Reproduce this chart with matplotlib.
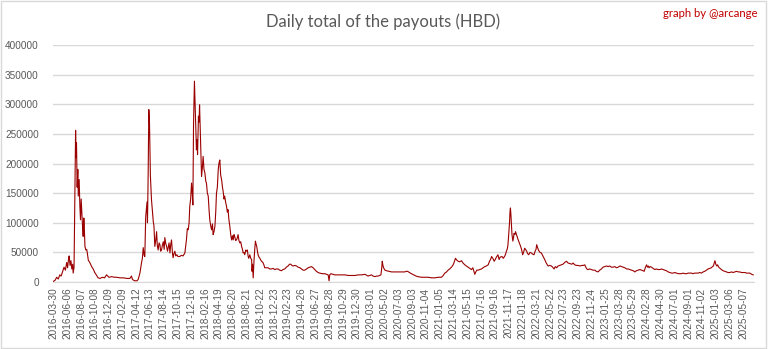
"""
Daily total of the payouts (HBD) - line chart.
"""
import numpy as np
import matplotlib.pyplot as plt
from matplotlib.patches import Rectangle

#<---------------------------Datos---------------------------->
# day index (category position on the x axis) and payout in thousands of HBD
day = [0, 8, 15, 22, 29, 35, 42, 48, 54, 60, 64, 68, 71, 75, 79, 83, 87, 89, 93, 97,
       100, 102, 104, 107, 110, 112, 116, 119, 122, 125, 128, 131, 134, 137, 139, 142, 146, 150, 153, 157,
       165, 172, 179, 186, 193, 201, 210, 220, 230, 239, 250, 262, 275, 284, 300, 315, 330, 344, 351, 356,
       366, 375, 381, 389, 396, 400, 404, 408, 411, 415, 419, 421, 423, 426, 429, 432, 436, 441, 449, 452,
       456, 460, 464, 467, 471, 475, 479, 482, 486, 490, 494, 498, 501, 505, 509, 513, 516, 520, 524, 527,
       531, 535, 538, 542, 546, 550, 555, 560, 568, 575, 583, 591, 595, 598, 602, 606, 610, 613, 617, 621,
       625, 627, 630, 634, 637, 639, 643, 646, 648, 652, 655, 657, 661, 664, 666, 670, 673, 677, 681, 685,
       688, 692, 696, 700, 703, 707, 711, 715, 718, 722, 726, 730, 733, 737, 741, 744, 748, 752, 756, 760,
       763, 767, 770, 774, 778, 782, 785, 789, 793, 797, 801, 805, 808, 812, 815, 819, 823, 827, 830, 834,
       838, 842, 846, 850, 853, 857, 860, 865, 868, 872, 875, 878, 883, 887, 891, 893, 895, 898, 902, 905,
       908, 911, 914, 917, 920, 924, 928, 935, 939, 943, 947, 950, 958, 965, 972, 980, 987, 995, 1002, 1010,
       1017, 1025, 1032, 1040, 1047, 1055, 1061, 1067, 1072, 1077, 1085, 1093, 1100, 1108, 1115, 1122, 1130, 1138, 1145, 1152,
       1160, 1167, 1175, 1182, 1190, 1197, 1208, 1220, 1228, 1235, 1239, 1242, 1247, 1256, 1265, 1280, 1295, 1310, 1325, 1340,
       1355, 1370, 1385, 1400, 1414, 1422, 1430, 1437, 1445, 1452, 1460, 1466, 1472, 1476, 1478, 1481, 1484, 1490, 1497, 1508,
       1520, 1535, 1549, 1565, 1579, 1586, 1592, 1600, 1609, 1620, 1630, 1639, 1654, 1670, 1684, 1700, 1714, 1730, 1744, 1752,
       1759, 1767, 1774, 1781, 1789, 1795, 1800, 1807, 1813, 1819, 1826, 1834, 1841, 1849, 1856, 1864, 1871, 1879, 1885, 1890,
       1894, 1897, 1903, 1909, 1916, 1924, 1931, 1939, 1946, 1954, 1960, 1965, 1969, 1975, 1981, 1986, 1991, 1998, 2003, 2008,
       2016, 2022, 2029, 2033, 2036, 2040, 2043, 2047, 2050, 2052, 2054, 2056, 2058, 2061, 2065, 2068, 2070, 2074, 2077, 2081,
       2084, 2088, 2091, 2096, 2100, 2104, 2109, 2113, 2118, 2122, 2127, 2131, 2136, 2142, 2148, 2154, 2160, 2165, 2169, 2172,
       2176, 2181, 2187, 2193, 2200, 2208, 2215, 2223, 2230, 2238, 2244, 2250, 2256, 2262, 2268, 2276, 2283, 2290, 2298, 2306,
       2313, 2321, 2330, 2336, 2343, 2350, 2358, 2366, 2375, 2382, 2388, 2394, 2400, 2403, 2410, 2418, 2425, 2433, 2440, 2448,
       2455, 2463, 2470, 2478, 2486, 2493, 2500, 2508, 2515, 2523, 2531, 2538, 2546, 2553, 2560, 2568, 2576, 2583, 2590, 2598,
       2606, 2613, 2620, 2628, 2636, 2643, 2650, 2655, 2660, 2666, 2670, 2674, 2677, 2682, 2688, 2695, 2703, 2710, 2718, 2726,
       2733, 2740, 2748, 2755, 2763, 2770, 2778, 2785, 2793, 2800, 2808, 2815, 2823, 2830, 2838, 2845, 2853, 2860, 2868, 2875,
       2882, 2890, 2897, 2905, 2912, 2920, 2927, 2935, 2942, 2950, 2957, 2962, 2966, 2970, 2973, 2977, 2981, 2985, 2990, 2996,
       3002, 3010, 3017, 3025, 3032, 3040, 3048, 3055, 3063, 3070, 3078, 3085, 3092, 3100, 3108, 3115, 3123, 3130, 3138, 3145]

hbd_k = [1, 3, 8, 5, 12, 10, 18, 25, 20, 33, 24, 38, 44, 28, 36, 22, 30, 15, 25, 150,
         256, 210, 235, 160, 190, 145, 173, 130, 105, 140, 117, 95, 77, 108, 93, 60, 54, 55, 48, 37,
         32, 26, 22, 16, 12, 7, 6, 8, 7, 12, 8, 9, 8, 8, 7, 7, 6, 6, 10, 4,
         2, 2, 4, 15, 32, 40, 58, 45, 43, 110, 128, 135, 100, 180, 291, 270, 180, 139, 102, 95,
         60, 70, 85, 62, 54, 66, 63, 52, 54, 62, 68, 55, 75, 65, 60, 52, 58, 66, 49, 62,
         71, 50, 41, 48, 52, 44, 46, 43, 43, 45, 44, 49, 62, 71, 90, 88, 100, 128, 140, 167,
         145, 130, 268, 339, 300, 268, 223, 240, 215, 280, 270, 299, 246, 200, 178, 195, 212, 190, 184, 170,
         167, 150, 145, 120, 105, 95, 88, 98, 80, 85, 94, 120, 150, 160, 190, 200, 206, 180, 173, 160,
         153, 140, 145, 135, 128, 118, 122, 105, 94, 80, 71, 78, 71, 80, 77, 70, 71, 75, 80, 70,
         66, 68, 60, 55, 49, 50, 46, 54, 52, 54, 44, 40, 46, 40, 38, 18, 30, 7, 38, 55,
         69, 64, 60, 52, 46, 42, 40, 35, 34, 32, 28, 24, 24, 24, 22, 22, 23, 21, 22, 22,
         20, 19, 21, 22, 25, 27, 30, 30, 28, 27, 28, 27, 25, 24, 22, 20, 20, 22, 24, 25,
         26, 24, 21, 18, 16, 15, 14, 14, 13, 12, 2, 12, 14, 13, 12, 12, 12, 12, 11, 11,
         11, 12, 12, 13, 10, 11, 12, 10, 9, 10, 10, 11, 12, 25, 35, 28, 24, 20, 19, 18,
         17, 17, 17, 17, 17, 18, 18, 16, 14, 12, 10, 9, 8, 8, 8, 7, 7, 8, 8, 11,
         15, 17, 20, 22, 25, 28, 32, 40, 37, 35, 34, 36, 32, 29, 27, 25, 23, 21, 24, 18,
         13, 16, 20, 20, 21, 22, 24, 26, 27, 29, 35, 38, 43, 40, 35, 38, 42, 46, 38, 42,
         43, 40, 44, 48, 52, 56, 63, 85, 100, 118, 125, 115, 100, 80, 69, 75, 82, 80, 85, 80,
         77, 72, 69, 64, 60, 55, 46, 50, 57, 55, 52, 48, 46, 50, 49, 47, 46, 52, 55, 63,
         58, 53, 50, 49, 44, 38, 32, 27, 28, 27, 25, 22, 26, 24, 27, 28, 29, 30, 33, 35,
         32, 31, 30, 32, 29, 28, 28, 27, 28, 28, 29, 24, 21, 21, 22, 21, 20, 20, 18, 17,
         20, 22, 25, 26, 27, 26, 27, 25, 25, 26, 24, 25, 27, 26, 25, 24, 22, 22, 21, 20,
         19, 17, 19, 20, 21, 20, 19, 18, 24, 29, 25, 27, 24, 26, 25, 23, 21, 22, 21, 21,
         22, 21, 20, 19, 17, 16, 15, 15, 16, 15, 14, 14, 14, 15, 14, 14, 15, 15, 15, 14,
         15, 15, 15, 16, 15, 17, 18, 20, 22, 23, 24, 26, 27, 32, 36, 30, 27, 29, 25, 23,
         21, 19, 18, 17, 16, 16, 17, 16, 17, 18, 17, 17, 16, 16, 16, 15, 15, 15, 13, 12]

tick_labels = ["2016-03-30", "2016-06-06", "2016-08-07", "2016-10-08", "2016-12-09",
               "2017-02-09", "2017-04-12", "2017-06-13", "2017-08-14", "2017-10-15",
               "2017-12-16", "2018-02-16", "2018-04-19", "2018-06-20", "2018-08-21",
               "2018-10-22", "2018-12-23", "2019-02-23", "2019-04-26", "2019-06-27",
               "2019-08-28", "2019-10-29", "2019-12-30", "2020-03-01", "2020-05-02",
               "2020-07-03", "2020-09-03", "2020-11-04", "2021-01-05", "2021-03-14",
               "2021-05-15", "2021-07-16", "2021-09-16", "2021-11-17", "2022-01-18",
               "2022-03-21", "2022-05-22", "2022-07-23", "2022-09-23", "2022-11-24",
               "2023-01-25", "2023-03-28", "2023-05-29", "2024-02-28", "2024-04-30",
               "2024-07-01", "2024-09-01", "2024-11-02", "2025-01-03", "2025-03-06",
               "2025-05-07"]
label_step = 62  # one label every 62 categories

#<---------------------------Grafica---------------------------->
plt.rcParams['font.family'] = ['Lato', 'DejaVu Sans']
gray = "#595959"

fig = plt.figure(figsize=(7.68, 3.49), dpi=100)
ax = fig.add_axes([0.0686, 0.192, 0.913, 0.679])

ax.plot(day, np.array(hbd_k) * 1000, color="#9b0000", linewidth=0.8)

ax.set_xlim(-3, 3148)
ax.set_ylim(0, 400000)
ax.set_yticks(np.arange(0, 400001, 50000))
ax.set_xticks(np.arange(len(tick_labels)) * label_step)
ax.set_xticklabels(tick_labels, rotation=90, family=['Liberation Sans', 'DejaVu Sans'])
ax.set_yticklabels([str(v) for v in range(0, 400001, 50000)],
                   family=['Liberation Sans', 'DejaVu Sans'])
ax.tick_params(axis="both", length=0, labelsize=7.2, labelcolor=gray)
ax.tick_params(axis="x", pad=4)
ax.tick_params(axis="y", pad=10)

ax.grid(axis="y", color="#d9d9d9", linewidth=1)
ax.set_axisbelow(True)
for s in ["top", "right", "left"]:
    ax.spines[s].set_visible(False)
ax.spines["bottom"].set_color("#d9d9d9")

fig.text(0.499, 0.938, "Daily total of the payouts (HBD)", ha="center", va="center",
         fontsize=12, color=gray)
fig.text(0.986, 0.962, "graph by @arcange", ha="right", va="center",
         fontsize=8.2, color="#c00000")

# borde gris del grafico
fig.patches.append(Rectangle((0.001, 0.002), 0.997, 0.995, transform=fig.transFigure,
                             fill=False, edgecolor="#d9d9d9", linewidth=1))

plt.savefig("out.png", dpi=100)
